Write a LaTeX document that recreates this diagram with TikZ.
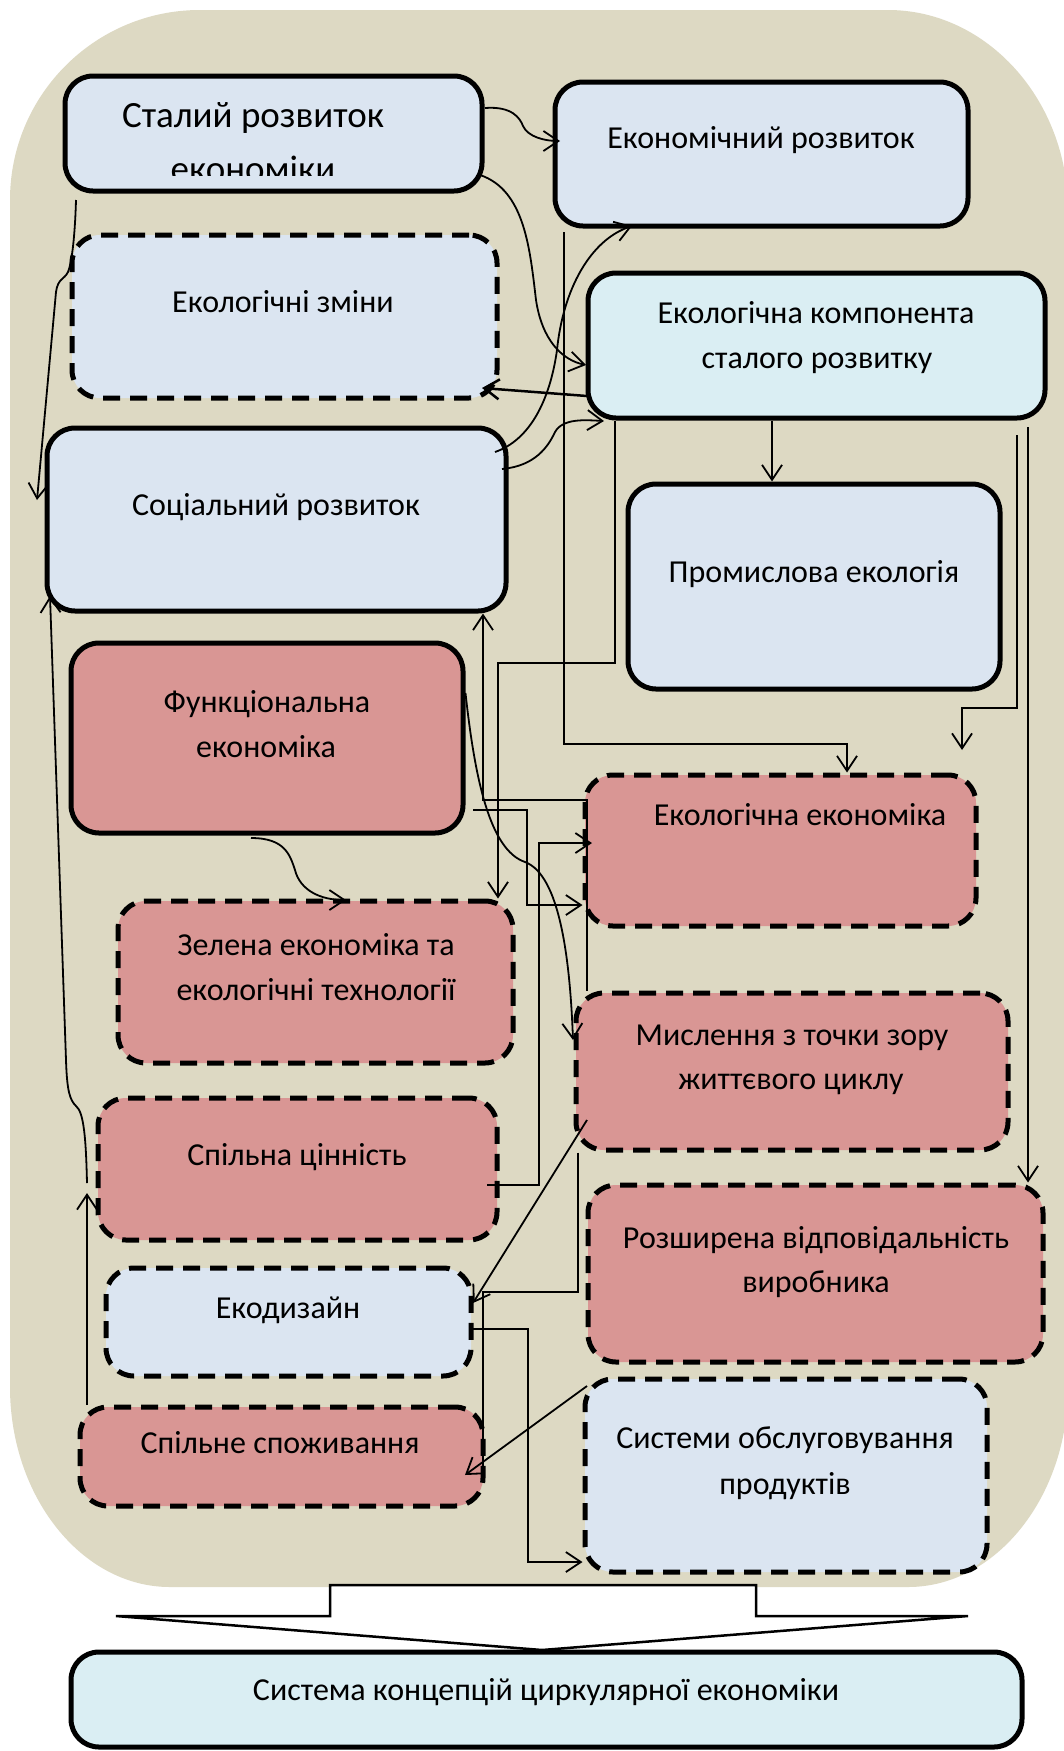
\documentclass[tikz,border=0pt]{standalone}
\usepackage{fontspec}
\setmainfont{Carlito}
\usetikzlibrary{arrows.meta,fit}
\definecolor{bgtan}{HTML}{DDD9C3}
\definecolor{lblue}{HTML}{DBE5F1}
\definecolor{lcyan}{HTML}{DAEEF3}
\definecolor{rosebox}{HTML}{D99694}
\begin{document}
\begin{tikzpicture}[x=1pt,y=-1pt,
  solidbox/.style={draw=black, line width=5pt, rounded corners=28pt, inner sep=0pt},
  dashbox/.style={draw=black, line width=5pt, rounded corners=28pt, inner sep=0pt, dash pattern=on 17pt off 10pt},
  txt/.style={anchor=base, inner sep=0pt, font=\fontsize{32}{44}\selectfont},
  bigtxt/.style={anchor=base, inner sep=0pt, font=\fontsize{37}{50}\selectfont},
  conn/.style={draw=black, line width=1.8pt},
  arr/.style={conn, -{Straight Barb[length=15pt,width=20pt]}},
]
\useasboundingbox (0,0) rectangle (1064,1751);
\fill[white] (0,0) rectangle (1064,1751);
% background
\fill[bgtan] (10,200) .. controls (10,95) and (95,10) .. (200,10) -- (888,10)
  .. controls (987,10) and (1068,100) .. (1068,210) -- (1068,1387)
  .. controls (1068,1497) and (996,1587) .. (908,1587) -- (170,1587)
  .. controls (82,1587) and (10,1497) .. (10,1387) -- cycle;
% big arrow
\draw[line width=2.5pt, fill=white] (330,1585) -- (756,1585) -- (756,1616) -- (968,1616)
  -- (542,1650) -- (116,1616) -- (330,1616) -- cycle;
% boxes
\node[solidbox, fill=lblue, fit={(65,76) (482,191)}] (stal) {};
\node[solidbox, fill=lblue, fit={(555,82) (968,226)}] (econ) {};
\node[dashbox, fill=lblue, fit={(72,235) (497,398)}] (zmin) {};
\node[solidbox, fill=lcyan, fit={(588,273) (1045,418)}] (ecocomp) {};
\node[solidbox, fill=lblue, fit={(47,428) (506,611)}] (soc) {};
\node[solidbox, fill=lblue, fit={(628,484) (1000,689)}] (prom) {};
\node[solidbox, fill=rosebox, fit={(71,643) (463,833)}] (func) {};
\node[dashbox, fill=rosebox, fit={(585,775) (976,926)}] (ecoec) {};
\node[dashbox, fill=rosebox, fit={(118,901) (513,1063)}] (zel) {};
\node[dashbox, fill=rosebox, fit={(576,993) (1008,1150)}] (mysl) {};
\node[dashbox, fill=rosebox, fit={(98,1098) (497,1240)}] (spcin) {};
\node[dashbox, fill=rosebox, fit={(588,1185) (1043,1362)}] (rozsh) {};
\node[dashbox, fill=lblue, fit={(106,1268) (471,1376)}] (ekod) {};
\node[dashbox, fill=rosebox, fit={(80,1407) (483,1506)}] (spsp) {};
\node[dashbox, fill=lblue, fit={(585,1379) (987,1572)}] (syst) {};
\node[solidbox, fill=lcyan, fit={(71,1652) (1022,1747)}] (sysc) {};
% texts
\node[bigtxt] (t-stal1) at (253,127) {Сталий розвиток};
\begin{scope}
  \clip (60,60) rectangle (490,175);
  \node[bigtxt] (t-stal2) at (253,181) {економіки};
\end{scope}
\node[txt] (t-econ) at (761,148) {Економічний розвиток};
\node[txt] (t-zmin) at (283,312) {Екологічні зміни};
\node[txt] (t-eco1) at (816,323) {Екологічна компонента};
\node[txt] (t-eco2) at (817,368) {сталого розвитку};
\node[txt] (t-soc) at (276,515) {Соціальний розвиток};
\node[txt] (t-prom) at (814,582) {Промислова екологія};
\node[txt] (t-func1) at (267,712) {Функціональна};
\node[txt] (t-func2) at (266,757) {економіка};
\node[txt] (t-ecoec) at (800,825) {Екологічна економіка};
\node[txt] (t-zel1) at (316,955) {Зелена економіка та};
\node[txt] (t-zel2) at (316,1000) {екологічні технології};
\node[txt] (t-mysl1) at (792,1045) {Мислення з точки зору};
\node[txt] (t-mysl2) at (791,1089) {життєвого циклу};
\node[txt] (t-spcin) at (297,1165) {Спільна цінність};
\node[txt] (t-rozsh1) at (816,1248) {Розширена відповідальність};
\node[txt] (t-rozsh2) at (816,1292) {виробника};
\node[txt] (t-ekod) at (288,1318) {Екодизайн};
\node[txt] (t-spsp) at (280,1453) {Спільне споживання};
\node[txt] (t-syst1) at (785,1448) {Системи обслуговування};
\node[txt] (t-syst2) at (785,1494) {продуктів};
\node[txt] (t-sysc) at (546,1700) {Система концепцій циркулярної економіки};
% free-end coordinates
\coordinate (a0) at (485,108);
\coordinate (a1) at (560,141);
\coordinate (b0) at (480,175);
\coordinate (b1) at (586,365);
\coordinate (c0) at (76,200);
\coordinate (c1) at (37,500);
\coordinate (d0) at (587,396);
\coordinate (d1) at (482,388);
\coordinate (e0) at (495,452);
\coordinate (e1) at (632,226);
\coordinate (f0) at (502,469);
\coordinate (f1) at (604,421);
\coordinate (g0) at (564,232);
\coordinate (j0) at (1017,435);
\coordinate (j1) at (962,750);
\coordinate (k0) at (1028,427);
\coordinate (l1) at (573,1040);
\coordinate (m2a) at (473,810);
\coordinate (n0) at (487,1185);
\coordinate (p0) at (587,1120);
\coordinate (p1) at (473,1303);
\coordinate (q0) at (587,1386);
\coordinate (q1) at (465,1475);
\coordinate (r0) at (473,1329);
\coordinate (t0) at (87,1405);
\coordinate (t1) at (87,1193);
\coordinate (u0) at (87,1183);
\coordinate (u1) at (50,596);
\coordinate (v0) at (251,838);
\coordinate (v1) at (346,900);
% connectors
\draw[arr] (a0) .. controls (512,106) and (520,118) .. (523,126) .. controls (528,137) and (545,141) .. (a1);
\draw[arr] (b0) .. controls (525,190) and (530,250) .. (536,300) .. controls (542,340) and (562,360) .. (b1);
\draw[arr] (c0) .. controls (75,235) and (72,262) .. (68,272) .. controls (64,280) and (58,278) .. (56,292) -- (c1);
\draw[conn, line width=2.5pt, -{Straight Barb[length=15pt,width=20pt]}] (d0) -- (d1);
\draw[arr] (e0) .. controls (530,440) and (550,400) .. (557,350) .. controls (563,290) and (590,240) .. (e1);
\draw[arr] (f0) .. controls (535,466) and (548,447) .. (555,432) .. controls (563,418) and (585,420) .. (f1);
\draw[arr] (g0) -- (564,744) -- (847,744) -- (ecoec.north -| 847,0);
\draw[arr] (ecocomp.south -| 615,0) -- (615,663) -- (498,663) -- (zel.north -| 498,0);
\draw[arr] (ecocomp.south -| 772,0) -- (prom.north -| 772,0);
\draw[arr] (j0) -- (1017,708) -- (962,708) -- (j1);
\draw[arr] (k0) -- (rozsh.north -| 1028,0);
\draw[arr] (func.east |- 0,693) .. controls (475,780) and (490,850) .. (525,862) .. controls (560,875) and (570,960) .. (l1);
\draw[arr] (mysl.north -| 587,0) -- (587,800) -- (483,800) -- (soc.south -| 483,0);
\draw[arr] (m2a) -- (527,810) -- (527,905) -- (ecoec.west |- 0,905);
\draw[arr] (n0) -- (539,1185) -- (539,843) -- (592,843);
\draw[conn] (mysl.south -| 578,0) -- (578,1292) -- (483,1292) -- (483,1477);
\draw[arr] (p0) -- (p1);
\draw[arr] (q0) -- (q1);
\draw[arr] (r0) -- (528,1329) -- (528,1562) -- (syst.west |- 0,1562);
\draw[arr] (t0) -- (t1);
\draw[arr] (u0) .. controls (86,1140) and (84,1112) .. (76,1106) .. controls (70,1100) and (67,1092) .. (66,1060) -- (u1);
\draw[arr] (v0) .. controls (285,838) and (290,855) .. (295,870) .. controls (300,890) and (320,900) .. (v1);
\end{tikzpicture}
\end{document}
